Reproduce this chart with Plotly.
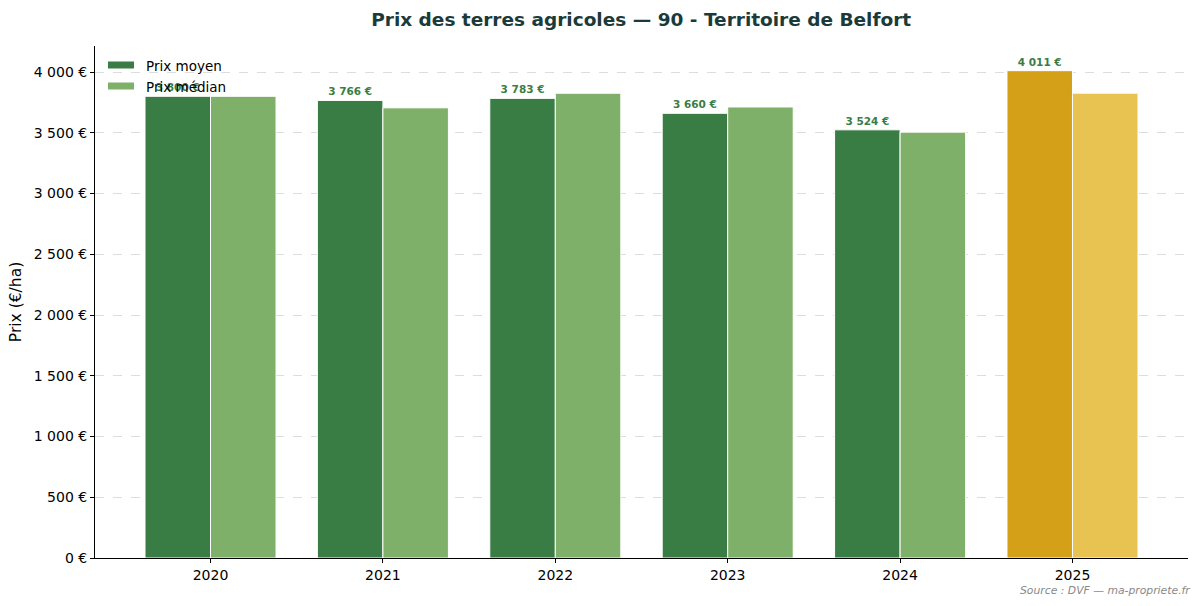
import plotly.graph_objects as go

years = ["2020", "2021", "2022", "2023", "2024", "2025"]
prix_moyen = [3800, 3766, 3783, 3660, 3524, 4011]
prix_median = [3800, 3705, 3825, 3712, 3505, 3826]
moyen_labels = ["3 800 €", "3 766 €", "3 783 €", "3 660 €", "3 524 €", "4 011 €"]
ytick_vals = [0, 500, 1000, 1500, 2000, 2500, 3000, 3500, 4000]
ytick_text = ["0 €", "500 €", "1 000 €", "1 500 €", "2 000 €", "2 500 €", "3 000 €", "3 500 €", "4 000 €"]
legend_names = ["Prix moyen", "Prix médian"]

col_moyen = ["#3a7d44"] * 5 + ["#d4a017"]
col_median = ["#7fb069"] * 5 + ["#e8c352"]

fig = go.Figure()
fig.add_trace(go.Bar(
    x=years, y=prix_moyen, name=legend_names[0],
    marker=dict(color=col_moyen, line=dict(color="white", width=1)),
    text=["<b>" + t + "</b>" for t in moyen_labels], textposition="outside",
    textfont=dict(family="DejaVu Sans", size=10.5, color="#3a7d44"),
    cliponaxis=False, showlegend=False,
))
fig.add_trace(go.Bar(
    x=years, y=prix_median, name=legend_names[1],
    marker=dict(color=col_median, line=dict(color="white", width=1)),
    showlegend=False,
))

# plot area in pixels: x 95..1188, y 46..558
def px_x(p):
    return (p - 95) / 1093

def px_y(p):
    return (558 - p) / 512

fig.update_layout(
    width=1203, height=606,
    paper_bgcolor="white", plot_bgcolor="white",
    font=dict(family="DejaVu Sans", size=14, color="black"),
    title=dict(text="<b>Prix des terres agricoles — 90 - Territoire de Belfort</b>",
               x=0.533, xanchor="center", y=0.968, yanchor="middle",
               font=dict(size=18.5, color="#1b3a3a")),
    margin=dict(l=95, r=15, t=46, b=48),
    barmode="group", bargap=0.24, bargroupgap=0.0,
    xaxis=dict(range=[-0.67, 5.67], showline=True, linecolor="black", linewidth=1,
               ticks="outside", ticklen=4, tickcolor="black", showgrid=False,
               tickfont=dict(size=14)),
    yaxis=dict(range=[0, 4214], showline=True, linecolor="black", linewidth=1,
               ticks="outside", ticklen=4, tickcolor="black",
               tickvals=ytick_vals, ticktext=ytick_text, tickfont=dict(size=14),
               showgrid=True, gridcolor="#dddddd", griddash="dash", gridwidth=1,
               zeroline=False,
               title=dict(text="Prix (€/ha)", font=dict(size=15.5), standoff=8)),
)

# manual legend (wide rectangular patches like the reference)
legend_cols = ["#3a7d44", "#7fb069"]
for i, (name, c) in enumerate(zip(legend_names, legend_cols)):
    yc = 65 + i * 21
    fig.add_shape(type="rect", xref="paper", yref="paper",
                  x0=px_x(108), x1=px_x(134), y0=px_y(yc + 3.5), y1=px_y(yc - 3.5),
                  fillcolor=c, line=dict(width=0), layer="above")
    fig.add_annotation(text=name, xref="paper", yref="paper",
                       x=px_x(144), y=px_y(yc + 0.5), xanchor="left", yanchor="middle",
                       showarrow=False, font=dict(size=13.5, color="black"))

fig.add_annotation(text="<i>Source : DVF — ma-propriete.fr</i>",
                   xref="paper", yref="paper", x=px_x(1192), y=px_y(590),
                   xanchor="right", yanchor="middle", showarrow=False,
                   font=dict(size=10.8, color="#888888"))

fig.write_html("out.html")
